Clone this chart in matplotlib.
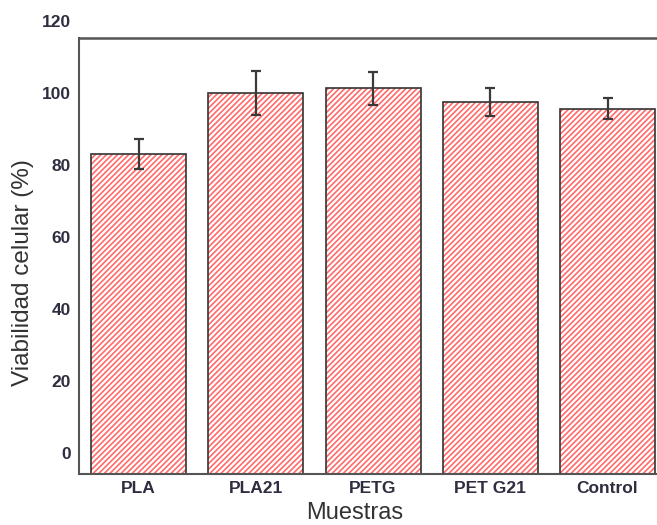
import matplotlib
matplotlib.use("Agg")
import matplotlib.pyplot as plt
import numpy as np

plt.rcParams['font.family'] = ['Liberation Sans', 'DejaVu Sans']
plt.rcParams['hatch.linewidth'] = 1.2

# Data
muestras = ["PLA", "PLA21", "PETG", "PETG21", "Control"]
tick_labels = ["PLA", "PLA21", "PETG", "PET G21", "Control"]
viabilidad = [83.0, 100.0, 101.3, 97.5, 95.7]
error = [4.1, 6.2, 4.5, 3.8, 3.0]
y_ticks = [0, 20, 40, 60, 80, 100, 120]

y_low, y_frame, y_high = -5.8, 115.3, 120

fig = plt.figure(figsize=(6.57, 5.25), dpi=100)
ax = fig.add_axes([0.120, 0.097, 0.885, 0.863])

x = np.arange(len(muestras))
heights = np.array(viabilidad) - y_low
# red hatch first, then the black outline on top
ax.bar(x, heights, bottom=y_low, width=0.81, color='white', edgecolor='#ff6a6a',
       linewidth=0, hatch='//////', zorder=2)
ax.bar(x, heights, bottom=y_low, width=0.81, fill=False, edgecolor='#333333',
       linewidth=1.2, zorder=2.5)
ax.errorbar(x, viabilidad, yerr=error, fmt='none', ecolor='#3a3a3a',
            elinewidth=1.6, capsize=3.5, capthick=1.6, zorder=3)

ax.set_xlim(-0.51, 4.45)
ax.set_ylim(y_low, y_high)

# frame: left, bottom and a top line below the 120 tick, like the original
for side in ['right', 'top']:
    ax.spines[side].set_visible(False)
for side in ['left', 'bottom']:
    ax.spines[side].set_color('#555555')
    ax.spines[side].set_linewidth(1.5)
ax.spines['left'].set_bounds(y_low, y_frame)
ax.axhline(y_frame, color='#555555', linewidth=1.8, clip_on=False)

ax.set_xticks(x)
ax.set_xticklabels(tick_labels)
ax.set_yticks(y_ticks)
ax.tick_params(axis='both', length=0, labelsize=12.5, labelcolor='#2e2e40')
ax.tick_params(axis='x', pad=5)
ax.tick_params(axis='y', pad=6)
for lbl in ax.get_xticklabels() + ax.get_yticklabels():
    lbl.set_fontweight('bold')

ax.set_ylabel("Viabilidad celular (%)", fontsize=17.5, color='#333333')
ax.yaxis.set_label_coords(-0.096, 0.444)
ax.yaxis.label.set_va('center')
ax.set_xlabel("Muestras", fontsize=17, color='#333333')
ax.xaxis.set_label_coords(0.475, -0.062)

plt.savefig("out.png", dpi=100)
plt.close()
